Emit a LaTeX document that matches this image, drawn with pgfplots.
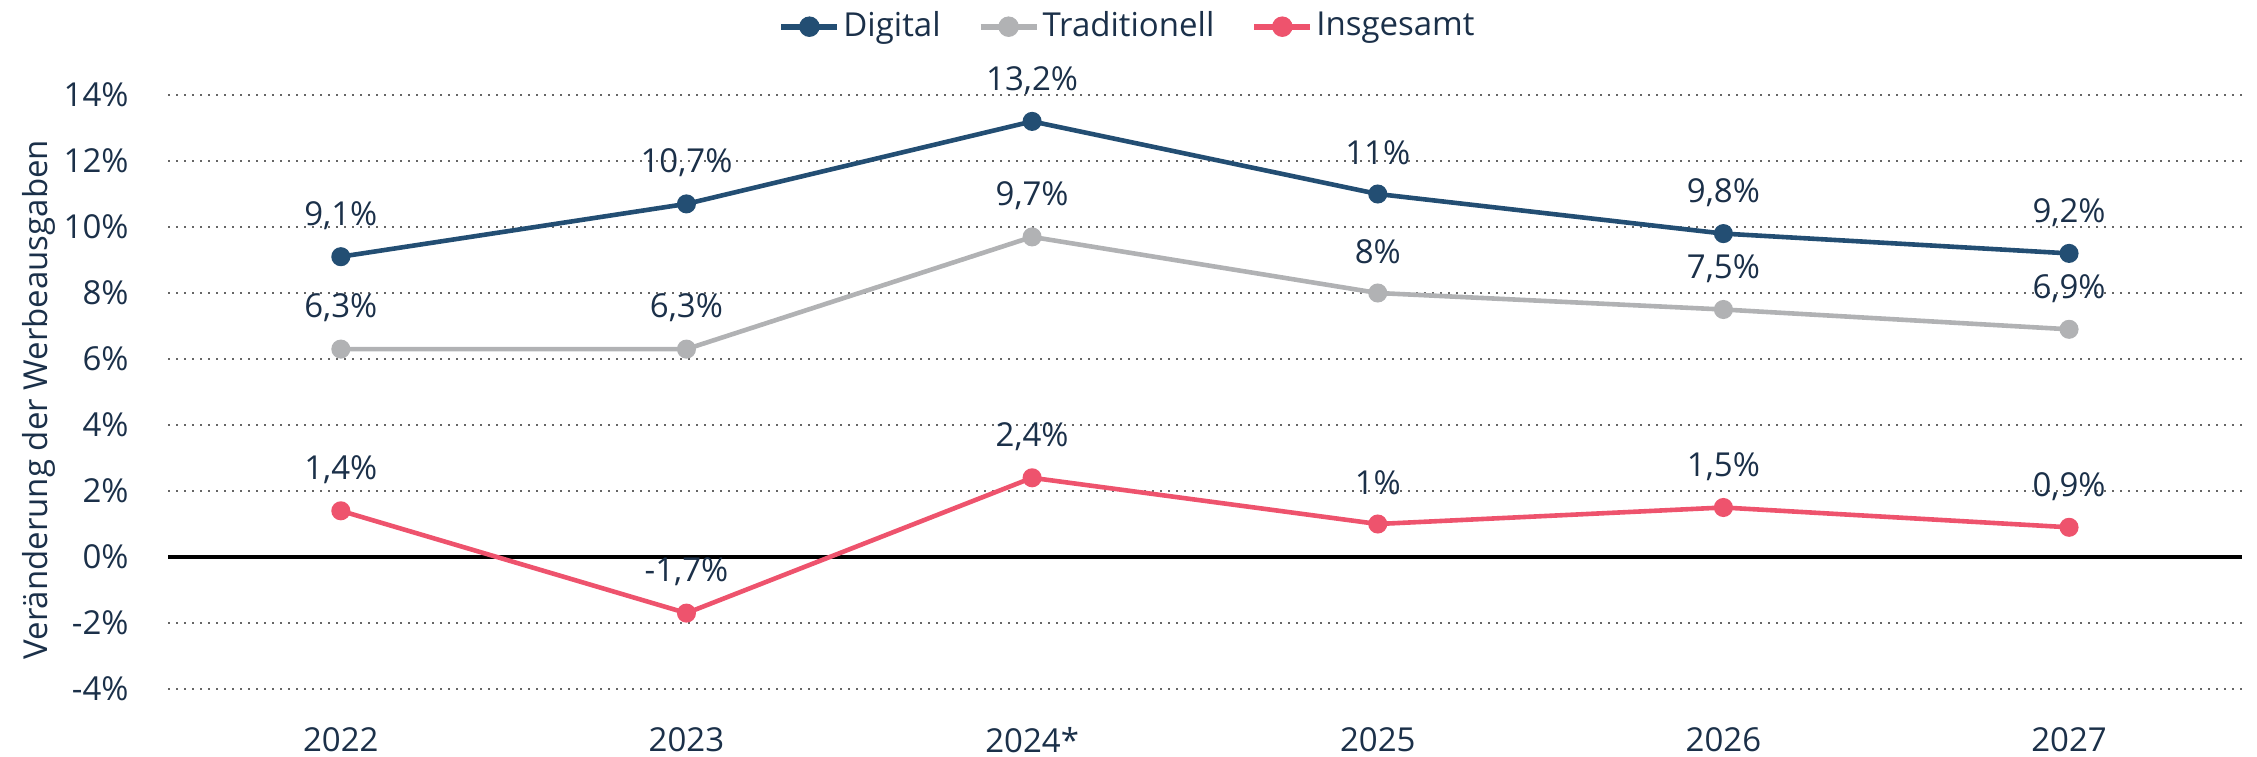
\documentclass[border=0pt]{standalone}
\usepackage{fontspec}
\setmainfont{Open Sans}
\usepackage{pgfplots}
\usepackage{pgfplotstable}
\pgfplotsset{compat=1.18}

\definecolor{txt}{HTML}{1B3049}
\definecolor{cDigital}{HTML}{234E73}
\definecolor{cTrad}{HTML}{B1B2B4}
\definecolor{cTotal}{HTML}{EE536D}
\definecolor{gridc}{HTML}{666666}

\pgfplotstableread{
x digital trad total
0 9.1  6.3 1.4
1 10.7 6.3 -1.7
2 13.2 9.7 2.4
3 11   8   1
4 9.8  7.5 1.5
5 9.2  6.9 0.9
}\werbung

\begin{document}
\begin{tikzpicture}
\fontsize{16.5}{19}\selectfont
\useasboundingbox (0,0) rectangle (1128.5pt,378pt);
\begin{axis}[
  at={(84pt,33.5pt)}, anchor=south west,
  scale only axis, width=1037pt, height=297pt,
  xmin=-0.5, xmax=5.5, ymin=-4, ymax=14,
  clip=false,
  axis line style={draw=none},
  tick style={draw=none},
  xtick={0,...,5},
  xticklabels={2022,2023,2024*,2025,2026,2027},
  ytick={-4,-2,...,14},
  yticklabel={\pgfmathprintnumber[assume math mode=true]{\tick}\%},
  yticklabel style={anchor=east, xshift=-14pt},
  xticklabel style={anchor=center, yshift=-25.5pt},
  ticklabel style={font=\fontsize{16.5}{19}\selectfont, text=txt},
  ymajorgrids,
  grid style={gridc, line width=1pt, dash pattern=on 1pt off 3pt},
  extra y ticks={0}, extra y tick labels={},
  extra y tick style={grid style={black, solid, line width=2pt}},
  ylabel={Veränderung der Werbeausgaben},
  ylabel style={at={(axis description cs:-0.0622,0.487)}, anchor=center,
    font=\fontsize{16.5}{19}\selectfont, text=txt},
  legend columns=3,
  legend style={at={(axis description cs:0.4629,1.115)}, anchor=center,
    draw=none, fill=none, font=\fontsize{16.5}{19}\selectfont, text=txt,
    /tikz/every even column/.append style={column sep=17pt},
    nodes={inner sep=1.5pt}},
  legend image code/.code={
    \draw[mark repeat=2, mark phase=2, #1, line width=3pt] plot coordinates {(0pt,0pt) (14pt,0pt) (28pt,0pt)};},
  every axis plot/.append style={line width=2.3pt, mark=*, mark size=3.6pt},
  nodes near coords={\pgfmathprintnumber[use comma, fixed, precision=1, assume math mode=true]{\pgfplotspointmeta}\%},
  every node near coord/.append style={anchor=center, yshift=20.5pt,
    font=\fontsize{16.5}{19}\selectfont, text=txt},
]
\addplot[cDigital, mark options={fill=cDigital, draw=cDigital}] table[x=x, y=digital] {\werbung};
\addlegendentry{Digital}
\addplot[cTrad, mark options={fill=cTrad, draw=cTrad}] table[x=x, y=trad] {\werbung};
\addlegendentry{Traditionell}
\addplot[cTotal, mark options={fill=cTotal, draw=cTotal}] table[x=x, y=total] {\werbung};
\addlegendentry{Insgesamt}
\end{axis}
\end{tikzpicture}
\end{document}
